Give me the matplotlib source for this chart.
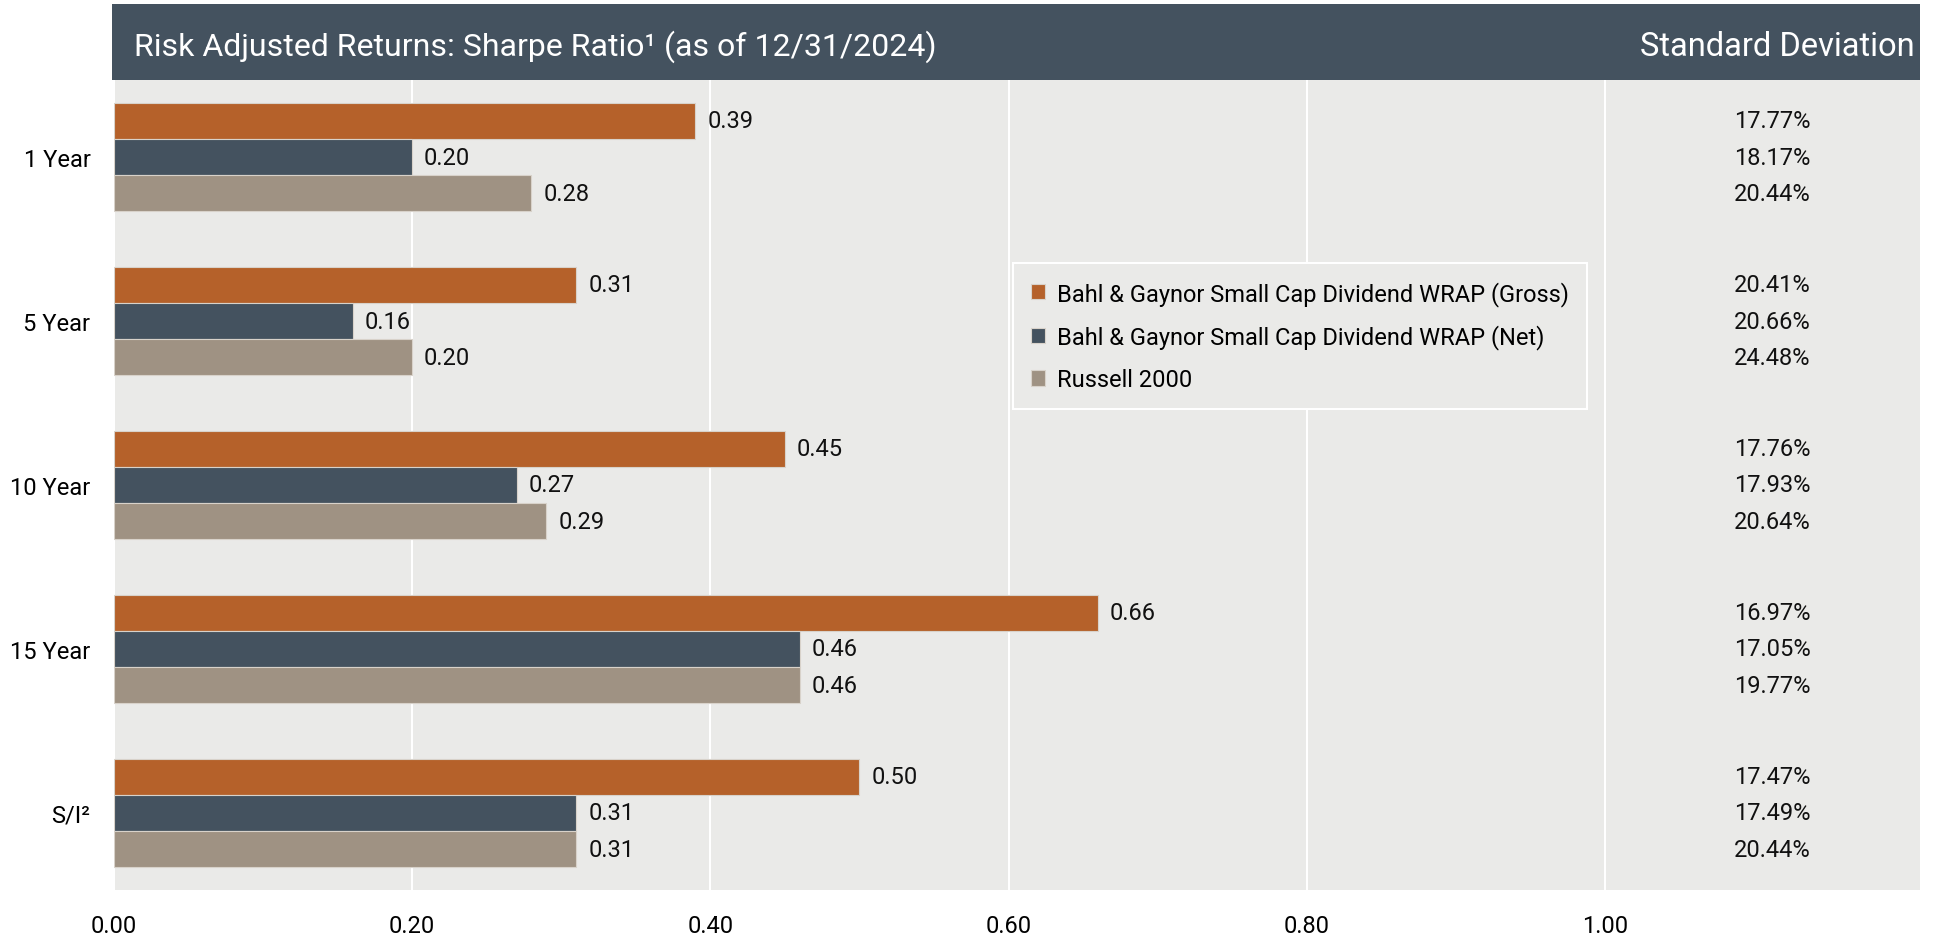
import matplotlib
matplotlib.use("Agg")
import matplotlib.pyplot as plt
import numpy as np

plt.rcParams["font.family"] = ["Roboto", "DejaVu Sans"]

periods = ["1 Year", "5 Year", "10 Year", "15 Year", "S/I²"]
series = ["Bahl & Gaynor Small Cap Dividend WRAP (Gross)",
          "Bahl & Gaynor Small Cap Dividend WRAP (Net)",
          "Russell 2000"]
gross = [0.39, 0.31, 0.45, 0.66, 0.50]
net = [0.20, 0.16, 0.27, 0.46, 0.31]
russell = [0.28, 0.20, 0.29, 0.46, 0.31]
std_gross = ["17.77%", "20.41%", "17.76%", "16.97%", "17.47%"]
std_net = ["18.17%", "20.66%", "17.93%", "17.05%", "17.49%"]
std_russell = ["20.44%", "24.48%", "20.64%", "19.77%", "20.44%"]

colors = ["#B5612A", "#44525F", "#9F9283"]
bg = "#EAEAE8"
W, H = 1942, 937
fs = 17

fig = plt.figure(figsize=(W / 100, H / 100), dpi=100)

# header band
hax = fig.add_axes([112 / W, (H - 81) / H, (1920 - 112) / W, 76 / H])
hax.set_facecolor(colors[1])
hax.set_xticks([]); hax.set_yticks([])
for s in hax.spines.values():
    s.set_visible(False)
hax.text(22 / 1808, 0.45, "Risk Adjusted Returns: Sharpe Ratio¹ (as of 12/31/2024)",
         color="white", fontsize=23, va="center", ha="left", transform=hax.transAxes)
hax.text(1 - 5 / 1808, 0.45, "Standard Deviation", color="white", fontsize=23.5,
         va="center", ha="right", transform=hax.transAxes)

ax = fig.add_axes([114 / W, (H - 891) / H, (1920 - 114) / W, 810 / H])
ax.set_facecolor(bg)
for s in ax.spines.values():
    s.set_visible(False)

y = np.arange(len(periods))
h = 0.22
vals = [gross, net, russell]
stds = [std_gross, std_net, std_russell]
for k, (v, c, lab) in enumerate(zip(vals, colors, series)):
    ypos = y + (k - 1) * h
    ax.barh(ypos, v, height=h, color=c, label=lab, edgecolor="#D8D2CA",
            linewidth=0.8, zorder=3)
    for yy, vv in zip(ypos, v):
        ax.text(vv + 0.008, yy, f"{vv:.2f}", va="center", ha="left",
                fontsize=fs, color="#111111", zorder=4)
    for yy, ss in zip(ypos, stds[k]):
        ax.text(1.112, yy, ss, va="center", ha="center", fontsize=fs,
                color="#111111")

ax.set_xlim(0, 1.2113)
ax.set_ylim(4.47, -0.47)
ticks = [0, 0.2, 0.4, 0.6, 0.8, 1.0]
ax.set_xticks(ticks)
ax.set_xticklabels([f"{t:.2f}" for t in ticks], fontsize=fs)
ax.set_yticks(y)
ax.set_yticklabels(periods, fontsize=fs)
ax.tick_params(length=0)
ax.tick_params(axis="x", pad=17)
ax.tick_params(axis="y", pad=17)
ax.grid(axis="x", color="white", linewidth=1.5, zorder=0)
ax.set_axisbelow(True)

leg = ax.legend(loc="upper left", bbox_to_anchor=((1013 - 114) / 1806, 1 - (264 - 81) / 810),
                fontsize=17, frameon=True, fancybox=False, facecolor=bg,
                edgecolor="white", framealpha=1, handlelength=0.62, handleheight=0.62,
                handletextpad=0.5, labelspacing=0.8, borderpad=0.75, borderaxespad=0)
leg.get_frame().set_linewidth(1.5)

fig.savefig("out.png", dpi=100, facecolor="white")
